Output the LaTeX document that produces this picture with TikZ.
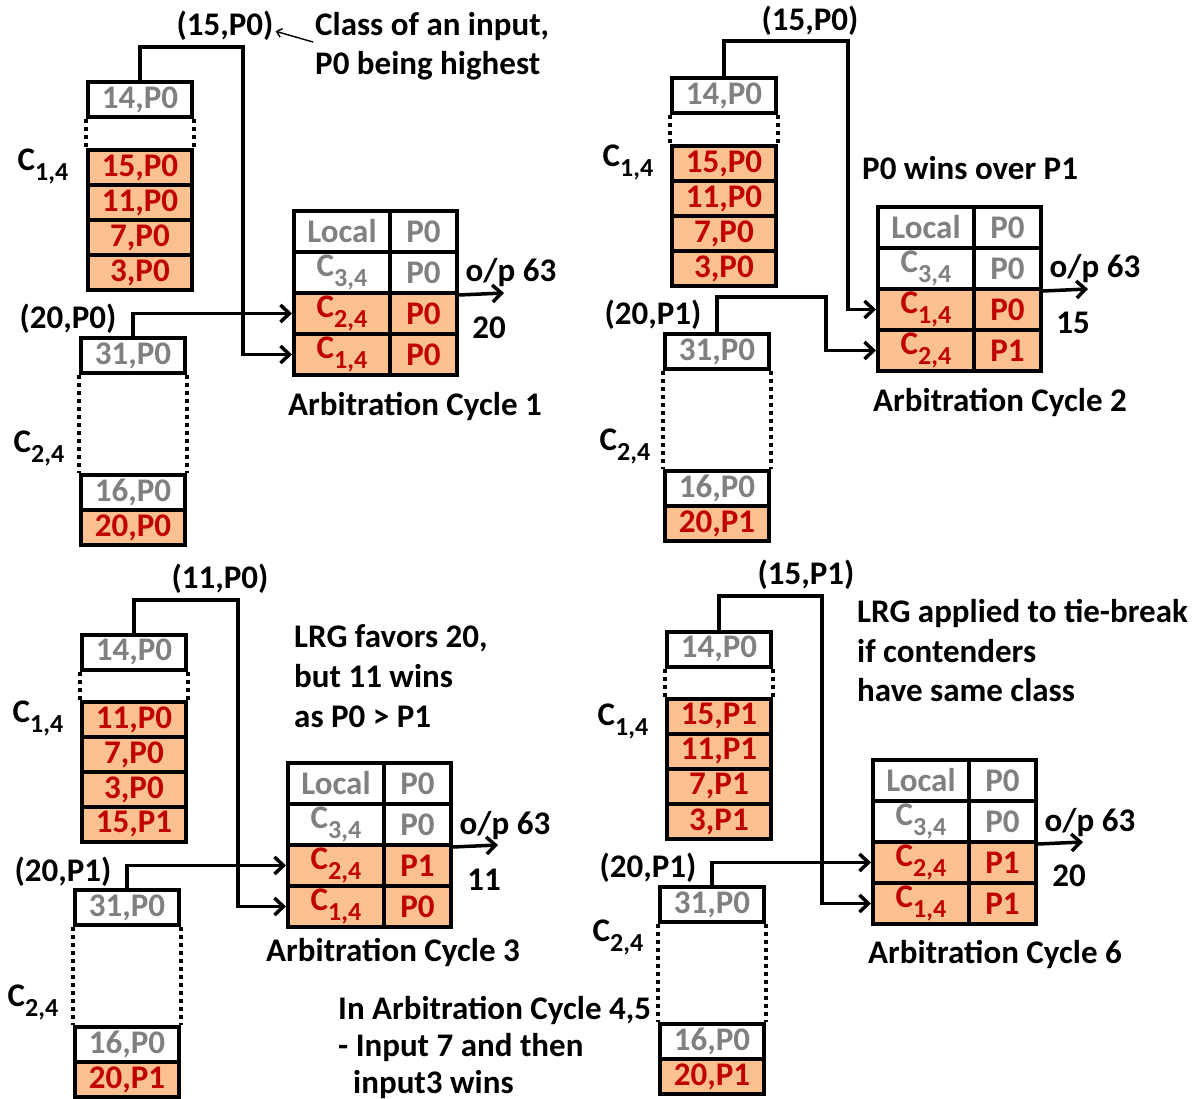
\documentclass[tikz,border=0pt]{standalone}
\usepackage{fontspec}
\setmainfont{Carlito}
\usetikzlibrary{arrows.meta}

\definecolor{peach}{HTML}{FAC090}
\definecolor{deepred}{HTML}{C00000}
\definecolor{mutedgray}{HTML}{808080}

% lowered index after a channel letter, e.g. C_{1,4}
\newcommand{\lowidx}[1]{\raisebox{-10pt}{\fontsize{26}{26}\selectfont #1}}
\newcommand{\Cx}[1]{C\lowidx{#1}}

% two input queues of one switch input port (top: C_{1,4}, bottom: C_{2,4})
\newcommand{\inputcolumns}[6]{%
  \node[qw] (#1top) at (140,100) {14,P0};
  \node[qo] (#1q1) at (140,167.5) {#2};
  \node[qo] (#1q2) at (140,202.5) {#3};
  \node[qo] (#1q3) at (140,237.5) {#4};
  \node[qo] (#1q4) at (140,272.5) {#5};
  \draw[dots] (#1top.south west) -- (#1q1.north west);
  \draw[dots] (#1top.south east) -- (#1q1.north east);
  \node[qw] (#1head) at (133,355.5) {31,P0};
  \node[qw] (#1tail) at (133,492.5) {16,P0};
  \node[qo] (#1last) at (133,527.5) {#6};
  \draw[dots] (#1head.south west) -- (#1tail.north west);
  \draw[dots] (#1head.south east) -- (#1tail.north east);
}

% arbiter table of output 63
\newcommand{\arbtable}[5]{%
  \node[tw, minimum width=96pt] (#1l1) at (342,231.5) {Local};
  \node[tw, minimum width=67pt] (#1p1) at (423.5,231.5) {P0};
  \node[tw, minimum width=96pt] (#1l2) at (342,272.5) {\Cx{3,4}};
  \node[tw, minimum width=67pt] (#1p2) at (423.5,272.5) {P0};
  \node[to, minimum width=96pt] (#1l3) at (342,313.5) {\Cx{#2}};
  \node[to, minimum width=67pt] (#1p3) at (423.5,313.5) {#3};
  \node[to, minimum width=96pt] (#1l4) at (342,354.5) {\Cx{#4}};
  \node[to, minimum width=67pt] (#1p4) at (423.5,354.5) {#5};
  \coordinate (#1out) at (504,293);
  \draw[wire] (#1p2.south east) -- (#1out);
}

\begin{document}
\begin{tikzpicture}[x=1pt,y=-1pt,
  every node/.style={font=\fontsize{33}{40}\selectfont\bfseries, inner sep=0pt},
  qw/.style={draw, line width=4pt, fill=white, text=mutedgray,
             minimum width=104pt, minimum height=35pt},
  qo/.style={qw, fill=peach, text=deepred},
  tw/.style={draw, line width=4pt, fill=white, text=mutedgray, minimum height=41pt},
  to/.style={tw, fill=peach, text=deepred},
  dots/.style={line width=4pt, dash pattern=on 4pt off 4pt},
  wire/.style={line width=3.5pt, -{Straight Barb[length=9pt,width=17pt]}},
  pointer/.style={line width=1.4pt, -{Straight Barb[length=5pt,width=9pt]}},
  lbl/.style={anchor=base, text=black},
  note/.style={anchor=base west, text=black}]

\fill[white] (0,0) rectangle (1194,1099);
\useasboundingbox (0,0) rectangle (1194,1099);

% ---------------- cycle 1 ----------------
\begin{scope}
  \inputcolumns{a}{15,P0}{11,P0}{7,P0}{3,P0}{20,P0}
  \arbtable{a}{2,4}{P0}{1,4}{P0}
  \coordinate (ak1) at (243,47);
  \draw[wire] (atop.north) |- (ak1) |- (al4.west);
  \draw[wire] (ahead.north) |- (al3.west);
  \node[lbl] (aclass1) at (225,36) {(15,P0)};
  \node[lbl] (aclass2) at (68,329) {(20,P0)};
  \node[lbl] (acol1) at (43,171) {\Cx{1,4}};
  \node[lbl] (acol2) at (39,452) {\Cx{2,4}};
  \node[lbl] (aport) at (511,282) {o/p 63};
  \node[lbl] (awin) at (489,338) {20};
  \node[lbl] (atitle) at (415,415) {Arbitration Cycle 1};
  \node[note] (anote1) at (315,36) {Class of an input,};
  \node[note] (anote2) at (315,75) {P0 being highest};
  \draw[pointer] ([xshift=-2pt,yshift=-15pt]anote1.west) -- ([xshift=2pt,yshift=-5pt]aclass1.east);
\end{scope}

% ---------------- cycle 2 ----------------
\begin{scope}[shift={(584,-4)}]
  \inputcolumns{b}{15,P0}{11,P0}{7,P0}{3,P0}{20,P1}
  \arbtable{b}{1,4}{P0}{2,4}{P1}
  \coordinate (bk1) at (264,45);
  \coordinate (bk2) at (242,301);
  \draw[wire] (btop.north) |- (bk1) |- (bl3.west);
  \draw[wire] (bhead.north) |- (bk2) |- (bl4.west);
  \node[lbl] (bclass1) at (226,35) {(15,P0)};
  \node[lbl] (bclass2) at (69,329) {(20,P1)};
  \node[lbl] (bcol1) at (44,171) {\Cx{1,4}};
  \node[lbl] (bcol2) at (41,454) {\Cx{2,4}};
  \node[lbl] (bport) at (511,282) {o/p 63};
  \node[lbl] (bwin) at (489,338) {15};
  \node[lbl] (btitle) at (416,415) {Arbitration Cycle 2};
  \node[note] (bnote) at (278,184) {P0 wins over P1};
\end{scope}

% ---------------- cycle 3 ----------------
\begin{scope}[shift={(-6,552)}]
  \inputcolumns{c}{11,P0}{7,P0}{3,P0}{15,P1}{20,P1}
  \arbtable{c}{2,4}{P1}{1,4}{P0}
  \coordinate (ck1) at (244,48);
  \draw[wire] (ctop.north) |- (ck1) |- (cl4.west);
  \draw[wire] (chead.north) |- (cl3.west);
  \node[lbl] (cclass1) at (226,36) {(11,P0)};
  \node[lbl] (cclass2) at (69,329) {(20,P1)};
  \node[lbl] (ccol1) at (44,170) {\Cx{1,4}};
  \node[lbl] (ccol2) at (39,454) {\Cx{2,4}};
  \node[lbl] (cport) at (511,282) {o/p 63};
  \node[lbl] (cwin) at (490,338) {11};
  \node[lbl] (ctitle) at (399,409) {Arbitration Cycle 3};
  \node[note] (cnote1) at (300,95) {LRG favors 20,};
  \node[note] (cnote2) at (300,135) {but 11 wins};
  \node[note] (cnote3) at (300,175) {as P0 > P1};
\end{scope}

% ---------------- cycle 6 ----------------
\begin{scope}[shift={(579,549)}]
  \inputcolumns{d}{15,P1}{11,P1}{7,P1}{3,P1}{20,P1}
  \arbtable{d}{2,4}{P1}{1,4}{P1}
  \coordinate (dk1) at (243,47);
  \draw[wire] (dtop.north) |- (dk1) |- (dl4.west);
  \draw[wire] (dhead.north) |- (dl3.west);
  \node[lbl] (dclass1) at (227,35) {(15,P1)};
  \node[lbl] (dclass2) at (69,328) {(20,P1)};
  \node[lbl] (dcol1) at (44,176) {\Cx{1,4}};
  \node[lbl] (dcol2) at (39,392) {\Cx{2,4}};
  \node[lbl] (dport) at (511,282) {o/p 63};
  \node[lbl] (dwin) at (490,337) {20};
  \node[lbl] (dtitle) at (416,414) {Arbitration Cycle 6};
  \node[note] (dnote1) at (278,73) {LRG applied to tie-break};
  \node[note] (dnote2) at (278,113) {if contenders};
  \node[note] (dnote3) at (278,152) {have same class};
\end{scope}

% cycles 4 and 5
\node[note] (mid1) at (338,1019) {In Arbitration Cycle 4,5};
\node[note] (mid2) at (338,1056) {- Input 7 and then};
\node[note] (mid3) at (353,1093) {input3 wins};

\end{tikzpicture}
\end{document}
